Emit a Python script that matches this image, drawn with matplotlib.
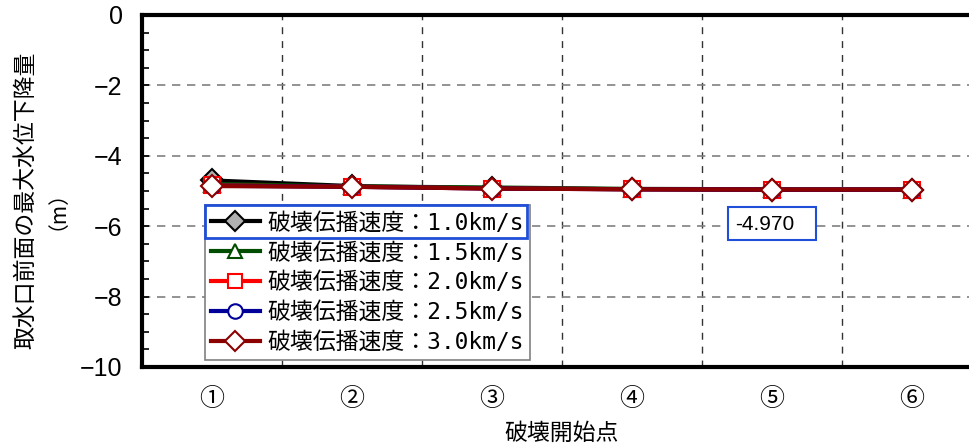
import matplotlib
matplotlib.use("Agg")
import matplotlib.pyplot as plt
from matplotlib.patches import Rectangle
import numpy as np

plt.rcParams['font.family'] = ['Noto Sans CJK JP', 'DejaVu Sans']

categories = ["①", "②", "③", "④", "⑤", "⑥"]
series_labels = ["破壊伝播速度：1.0km/s", "破壊伝播速度：1.5km/s", "破壊伝播速度：2.0km/s",
                 "破壊伝播速度：2.5km/s", "破壊伝播速度：3.0km/s"]
v10 = [-4.70, -4.86, -4.92, -4.95, -4.97, -4.96]
v15 = [-4.80, -4.87, -4.90, -4.94, -4.95, -4.96]
v20 = [-4.84, -4.88, -4.93, -4.95, -4.96, -4.96]
v25 = [-4.85, -4.88, -4.93, -4.95, -4.96, -4.96]
v30 = [-4.86, -4.88, -4.93, -4.95, -4.96, -4.96]
annot_value = -4.970
y_ticks = [0, -2, -4, -6, -8, -10]

W, H = 970, 445
fig = plt.figure(figsize=(W / 100, H / 100), dpi=100)
ax = fig.add_axes([142 / W, 1 - 367 / H, 840 / W, (367 - 15) / H])

x = np.arange(len(categories))
styles = [
    dict(color='black', marker='D', mfc='#b0b0b0', mec='black'),
    dict(color='#004d00', marker='^', mfc='white', mec='#004d00'),
    dict(color='#ff0000', marker='s', mfc='white', mec='#ff0000'),
    dict(color='#000099', marker='o', mfc='white', mec='#000099'),
    dict(color='#8b0000', marker='D', mfc='white', mec='#8b0000'),
]
handles = []
for vals, lab, st in zip([v10, v15, v20, v25, v30], series_labels, styles):
    h, = ax.plot(x, vals, lw=3, ms=11, mew=1.5, label=lab, zorder=3, **st)
    handles.append(h)

ax.set_xlim(-0.5, len(categories) - 0.5)
ax.set_ylim(-10, 0)
ax.set_yticks(y_ticks)
ax.set_yticklabels([str(t).replace('-', '−') for t in y_ticks],
                   family=['Liberation Sans Narrow', 'Liberation Sans'], fontsize=18)
ax.set_yticks(np.arange(-10, 0.01, 0.5), minor=True)
ax.tick_params(axis='y', which='both', direction='in', length=5, width=1.2, pad=14)
ax.set_xticks(x)
ax.set_xticklabels(categories, fontsize=18)
ax.set_xticks(x[:-1] + 0.5, minor=True)
ax.tick_params(axis='x', which='both', length=0, pad=14)

ax.grid(axis='y', which='major', color='#808080', ls=(0, (5, 4)), lw=1.2)
ax.grid(axis='x', which='minor', color='#333333', ls=(0, (5, 5)), lw=1.0)
ax.set_axisbelow(True)

for s in ['left', 'top', 'bottom']:
    ax.spines[s].set_linewidth(3)
ax.spines['right'].set_visible(False)

ax.set_xlabel("破壊開始点", fontsize=16.5, labelpad=7)
fig.text(26 / W, 1 - 200 / H, "取水口前面の最大水位下降量", rotation=90,
         ha='center', va='center', fontsize=16.5)
fig.text(47 / W, 1 - 200 / H, "（m）", rotation=90,
         ha='center', va='center', fontsize=15)

leg = fig.legend(handles=handles, loc='upper left',
                 bbox_to_anchor=(205 / W, 1 - 205 / H), borderaxespad=0,
                 fontsize=16.5, frameon=True, fancybox=False, edgecolor='#808080',
                 handlelength=2.1, handletextpad=0.35, labelspacing=0.3,
                 borderpad=0.28, framealpha=1, markerscale=0.95)
leg.get_frame().set_linewidth(1.2)
for t in leg.get_texts():
    t.set_family(['DejaVu Sans Mono', 'Noto Sans CJK JP'])

fig.patches.append(Rectangle((205 / W, 1 - 238 / H), 322 / W, 33 / H,
                             transform=fig.transFigure, fill=False,
                             edgecolor='#1f4fd8', lw=2, zorder=10))

fig.patches.append(Rectangle((728 / W, 1 - 240 / H), 88 / W, 33 / H,
                             transform=fig.transFigure, fc='white',
                             edgecolor='#1f4fd8', lw=1.5, zorder=10))
fig.text(735 / W, 1 - 224 / H, f"{annot_value:.3f}", ha='left', va='center',
         fontsize=15, family=['Liberation Sans', 'DejaVu Sans'], zorder=11)

fig.savefig("out.png", dpi=100)
